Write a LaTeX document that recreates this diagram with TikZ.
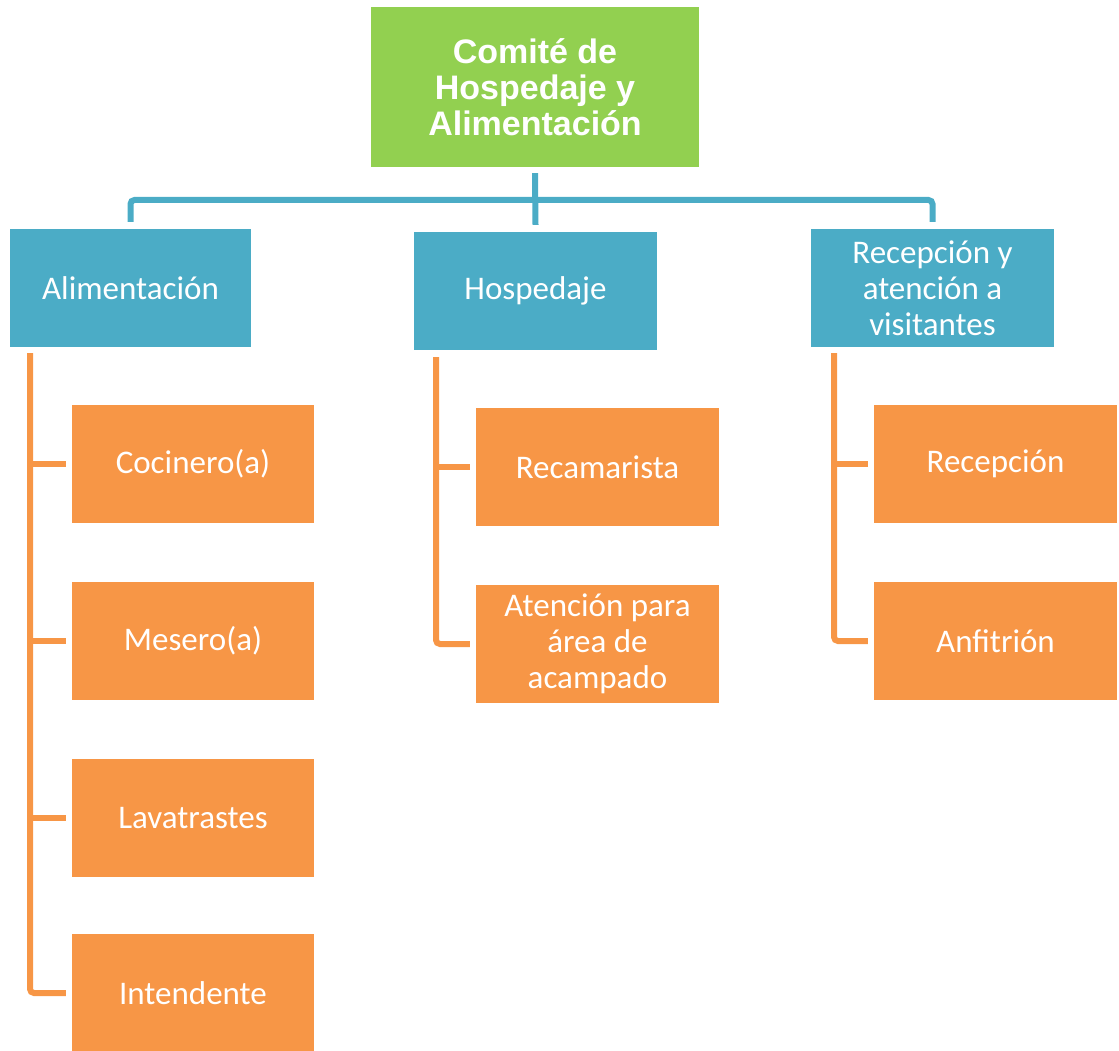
\documentclass[tikz,border=0pt]{standalone}
\usepackage{fontspec}
\setmainfont{Carlito}
\newfontfamily\topfont{Liberation Sans}
\definecolor{cgreen}{HTML}{92D050}
\definecolor{cblue}{HTML}{4BACC6}
\definecolor{corange}{HTML}{F79646}
\tikzset{
  box/.style={rectangle, inner sep=0pt, text=white, align=center, font=\fontsize{33}{36}\selectfont},
  topbox/.style={box, fill=cgreen, minimum width=328pt, minimum height=160pt, font=\topfont\bfseries\fontsize{34}{36}\selectfont},
  bluebox/.style={box, fill=cblue, minimum width=242pt, minimum height=118pt},
  orbox/.style={box, fill=corange, minimum width=243pt, minimum height=118pt},
  blueline/.style={draw=cblue, line width=6pt, rounded corners=4pt},
  orline/.style={draw=corange, line width=6pt, rounded corners=4pt},
}
\begin{document}
\begin{tikzpicture}[x=1pt, y=-1pt]
\useasboundingbox (0,0) rectangle (1119,1051);
% top
\node[topbox] (top) at (535,87) {Comité de\\Hospedaje y\\Alimentación};
% second level
\node[bluebox, minimum width=241pt] (alim) at (130.5,288) {Alimentación};
\node[bluebox, minimum width=243pt] (hosp) at (535.5,291) {Hospedaje};
\node[bluebox, minimum width=243pt] (rec) at (932.5,288) {Recepción y\\atención a\\visitantes};
% children
\node[orbox, minimum width=242pt] (coc) at (193,464) {Cocinero(a)};
\node[orbox, minimum width=242pt] (mes) at (193,641) {Mesero(a)};
\node[orbox, minimum width=242pt] (lav) at (193,818) {Lavatrastes};
\node[orbox, minimum width=242pt] (int) at (193,993) {Intendente};
\node[orbox] (reca) at (597.5,467) {Recamarista};
\node[orbox] (aten) at (597.5,644) {Atención para\\área de\\acampado};
\node[orbox] (recp) at (995.5,464) {Recepción};
\node[orbox] (anf) at (995.5,641) {Anfitrión};
% blue connectors
\coordinate (bar) at (535,200);
\draw[blueline] ([yshift=-6pt]top.south) -- ([yshift=7pt]hosp.north);
\draw[blueline] ([yshift=7pt]alim.north) |- (bar) -| ([yshift=7pt]rec.north);
% orange connectors
\coordinate (spA) at (30,353);
\coordinate (spB) at (436,357);
\coordinate (spC) at (834,353);
\draw[orline] (spA) |- ([xshift=-6pt]int.west);
\draw[orline] (coc.west -| spA) -- ([xshift=-6pt]coc.west);
\draw[orline] (mes.west -| spA) -- ([xshift=-6pt]mes.west);
\draw[orline] (lav.west -| spA) -- ([xshift=-6pt]lav.west);
\draw[orline] (spB) |- ([xshift=-6pt]aten.west);
\draw[orline] (reca.west -| spB) -- ([xshift=-6pt]reca.west);
\draw[orline] (spC) |- ([xshift=-6pt]anf.west);
\draw[orline] (recp.west -| spC) -- ([xshift=-6pt]recp.west);
\end{tikzpicture}
\end{document}
